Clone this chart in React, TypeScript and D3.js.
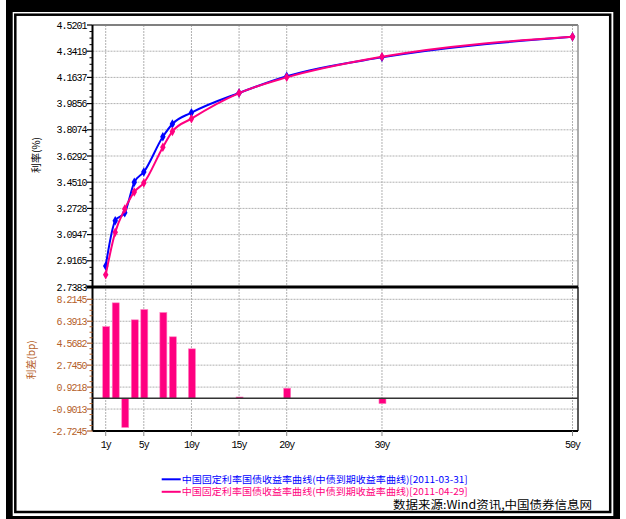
import React from "react";
import * as d3 from "d3";

const tenors = [1, 2, 3, 4, 5, 7, 8, 10, 15, 20, 30, 50];
const curveMar31 = [2.881, 3.189, 3.244, 3.45, 3.52, 3.76, 3.847, 3.924, 4.058, 4.172, 4.3, 4.44];
const curveApr29 = [2.822, 3.11, 3.268, 3.385, 3.446, 3.689, 3.796, 3.883, 4.057, 4.164, 4.304, 4.44];
const spreadBp = [5.95, 7.92, -2.43, 6.51, 7.37, 7.12, 5.1, 4.1, 0.1, 0.83, -0.45, 0];
const xTicks = [1, 5, 10, 15, 20, 30, 50];
const xTickLabels = ["1y", "5y", "10y", "15y", "20y", "30y", "50y"];
const rateTicks = [2.7383, 2.9165, 3.0947, 3.2728, 3.451, 3.6292, 3.8074, 3.9856, 4.1637, 4.3419, 4.5201];
const spreadTicks = [-2.7245, -0.9013, 0.9218, 2.745, 4.5682, 6.3913, 8.2145];
const legendLabels = [
  "中国固定利率国债收益率曲线(中债到期收益率曲线)[2011-03-31]",
  "中国固定利率国债收益率曲线(中债到期收益率曲线)[2011-04-29]",
];
const sourceText = "数据来源:Wind资讯,中国债券信息网";

const BLUE = "#0000ff";
const PINK = "#ff0080";
const BROWN = "#b5612a";
const GRID = "#b0b0b0";

export default function App() {
  const L = 92.5, R = 578, T = 25, SEP = 287, B = 431;
  const x = d3.scaleLinear().domain([-0.386, 50.577]).range([L, R]);
  const yR = d3.scaleLinear().domain([2.7383, 4.5201]).range([SEP, T]);
  const yS = d3.scaleLinear().domain([-2.7245, 9.236]).range([B, SEP]);

  const line = d3
    .line<number>()
    .x((_, i) => x(tenors[i]))
    .y((v) => yR(v))
    .curve(d3.curveMonotoneX);
  const diamond = d3.symbol().type(d3.symbolDiamond).size(26)();

  const minor = (ticks: number[], sc: d3.ScaleLinear<number, number>) => {
    const out: number[] = [];
    const s = [...ticks].sort((a, b) => a - b);
    for (let i = 0; i < s.length - 1; i++) {
      for (let k = 1; k <= 3; k++) out.push(s[i] + ((s[i + 1] - s[i]) * k) / 4);
    }
    return out.map((v) => sc(v));
  };

  const tickFont = {
    fontFamily: "Liberation Mono, monospace",
    fontSize: 10,
    letterSpacing: -1,
  } as React.CSSProperties;
  const cjk = "'Noto Sans CJK SC', sans-serif";

  return (
    <svg
      width={626}
      height={519}
      style={{ position: "absolute", left: 0, top: 0, background: "#fff" }}
    >
      {/* frame */}
      <rect x={6} y={0} width={614} height={519} fill="#000" />
      <rect x={12.7} y={12} width={600.6} height={504} fill="#fff" />
      <rect x={15.3} y={14.7} width={594.9} height={497.3} fill="#fff" stroke="#000" strokeWidth={2.5} />

      {/* vertical gridlines */}
      {xTicks.map((t) => (
        <line key={"vg" + t} x1={x(t)} x2={x(t)} y1={T} y2={B} stroke={GRID} strokeDasharray="2,1" />
      ))}
      {/* horizontal gridlines */}
      {rateTicks.slice(1, -1).map((v) => (
        <line key={"hg" + v} x1={L} x2={R} y1={yR(v)} y2={yR(v)} stroke={GRID} strokeDasharray="2,1" />
      ))}
      {spreadTicks.slice(1).map((v) => (
        <line key={"sg" + v} x1={L} x2={R} y1={yS(v)} y2={yS(v)} stroke={GRID} strokeDasharray="2,1" />
      ))}

      {/* bars */}
      {spreadBp.map((v, i) =>
        v === 0 ? null : (
          <rect
            key={"b" + i}
            x={x(tenors[i]) - 3}
            width={7}
            y={Math.min(yS(0), yS(v))}
            height={Math.max(1, Math.abs(yS(v) - yS(0)))}
            fill={PINK}
            stroke="#ff80c0"
            strokeWidth={0.6}
          />
        )
      )}

      {/* plot frame */}
      <line x1={L} x2={R} y1={T} y2={T} stroke="#808080" strokeWidth={2} />
      <line x1={R} x2={R} y1={T} y2={SEP} stroke="#909090" strokeWidth={1.5} />
      <line x1={R} x2={R} y1={SEP} y2={B} stroke="#222" strokeWidth={1.5} />
      <line x1={L} x2={R} y1={B} y2={B} stroke="#000" strokeWidth={2} />
      <line x1={L} x2={R} y1={yS(0)} y2={yS(0)} stroke="#333" strokeWidth={1.5} />
      <line x1={L} x2={L} y1={T} y2={B} stroke="#000" strokeWidth={2} />
      <line x1={L - 6} x2={R} y1={SEP} y2={SEP} stroke="#000" strokeWidth={3} />

      {/* upper y axis */}
      {rateTicks.map((v) => (
        <g key={"rt" + v}>
          <line x1={L - 5.5} x2={L} y1={yR(v)} y2={yR(v)} stroke="#000" strokeWidth={1.2} />
          <text x={L - 6} y={yR(v)} dy="0.35em" textAnchor="end" style={tickFont} fill="#000">
            {v.toFixed(4)}
          </text>
        </g>
      ))}
      {minor(rateTicks, yR).map((y, i) => (
        <line key={"rm" + i} x1={L - 3} x2={L} y1={y} y2={y} stroke="#000" strokeWidth={1} />
      ))}
      {/* lower y axis */}
      {spreadTicks.map((v) => (
        <g key={"st" + v}>
          <line x1={L - 5.5} x2={L} y1={yS(v)} y2={yS(v)} stroke={BROWN} strokeWidth={1.2} />
          <text x={L - 6} y={yS(v)} dy="0.35em" textAnchor="end" style={tickFont} fill={BROWN}>
            {v.toFixed(4)}
          </text>
        </g>
      ))}
      {minor(spreadTicks, yS).map((y, i) => (
        <line key={"sm" + i} x1={L - 3} x2={L} y1={y} y2={y} stroke={BROWN} strokeWidth={1} />
      ))}

      {/* x axis */}
      {xTicks.map((t, i) => (
        <g key={"xt" + t}>
          <line x1={x(t)} x2={x(t)} y1={B} y2={B + 5} stroke="#888" />
          <text x={x(t)} y={448} textAnchor="middle" style={tickFont} fill="#000">
            {xTickLabels[i]}
          </text>
        </g>
      ))}

      {/* axis titles */}
      <text
        transform={`translate(40,155) rotate(-90)`}
        textAnchor="middle"
        style={{ fontFamily: cjk, fontSize: 10 }}
        fill="#000"
      >
        利率(%)
      </text>
      <text
        transform={`translate(35,360) rotate(-90)`}
        textAnchor="middle"
        style={{ fontFamily: cjk, fontSize: 10 }}
        fill={BROWN}
      >
        利差(bp)
      </text>

      {/* curves */}
      <path d={line(curveMar31) || ""} fill="none" stroke={BLUE} strokeWidth={2} />
      {curveMar31.map((v, i) => (
        <path key={"mb" + i} d={diamond || ""} transform={`translate(${x(tenors[i])},${yR(v)})`} fill={BLUE} />
      ))}
      <path d={line(curveApr29) || ""} fill="none" stroke={PINK} strokeWidth={2} />
      {curveApr29.map((v, i) => (
        <path key={"mp" + i} d={diamond || ""} transform={`translate(${x(tenors[i])},${yR(v)})`} fill={PINK} />
      ))}

      {/* legend */}
      {[BLUE, PINK].map((c, i) => (
        <g key={"lg" + i}>
          <line x1={161.7} x2={180.7} y1={479.3 + i * 12.5} y2={479.3 + i * 12.5} stroke={c} strokeWidth={2} />
          <text
            x={181.7}
            y={482.6 + i * 12.5}
            textLength={286}
            lengthAdjust="spacingAndGlyphs"
            style={{ fontFamily: cjk, fontSize: 9.5 }}
            fill={c}
          >
            {legendLabels[i]}
          </text>
        </g>
      ))}
      <text
        x={393}
        y={509}
        textLength={199}
        lengthAdjust="spacingAndGlyphs"
        style={{ fontFamily: cjk, fontSize: 11.5 }}
        fill="#000"
      >
        {sourceText}
      </text>
    </svg>
  );
}
